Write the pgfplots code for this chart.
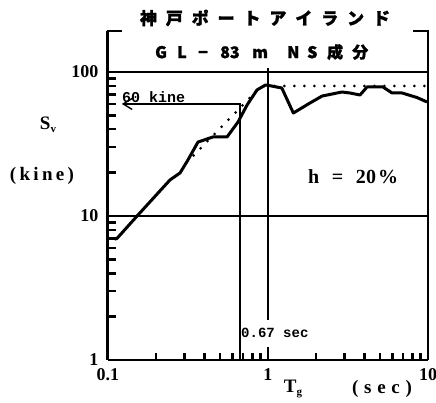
\documentclass[border=0pt]{standalone}
\usepackage{fontspec}
\setmainfont{Liberation Serif}
\newfontfamily\cjk{Noto Sans CJK JP}[FakeBold=1.5]
\newfontfamily\monof{Liberation Mono}
\usepackage{pgfplots}
\pgfplotsset{compat=1.18}
\usetikzlibrary{arrows.meta}
\begin{document}
\begin{tikzpicture}
\begin{axis}[at={(0pt,0pt)}, anchor=south west, scale only axis, width=320pt, height=329pt,
 xmode=log, ymode=log, xmin=0.1, xmax=10, ymin=1, ymax=192.6,
 axis x line*=bottom, axis y line*=left,
 x axis line style={-, line width=2.5pt},
 y axis line style={-, line width=3pt},
 xtick={0.1,1,10}, xticklabels={0.1,1,10},
 ytick={1,10,100}, yticklabels={1,10,100},
 major tick length=0pt, minor tick length=0pt,
 ticklabel style={font=\fontsize{18}{18}\selectfont\bfseries},
 xticklabel style={yshift=-5pt},
 yticklabel style={xshift=-6pt},
 tk/.style={black, line width=2.4pt, forget plot},
 clip=false]
% tick marks
\pgfplotsinvokeforeach{2,3,4,5,6,7,8,9}{
 \addplot[tk] coordinates {(#1e-1,1)(#1e-1,1.11)};
 \addplot[tk] coordinates {(#1,1)(#1,1.11)};
 \addplot[tk] coordinates {(0.1,#1)(0.113,#1)};
 \addplot[tk] coordinates {(0.1,#10)(0.113,#10)};
}
\addplot[tk] coordinates {(1,1)(1,1.23)};
% grid lines
\addplot[line width=1.5pt] coordinates {(0.1,10)(10,10)};
\addplot[line width=1.5pt] coordinates {(0.1,100)(10,100)};
\addplot[line width=1.5pt] coordinates {(1,1.9)(1,106.6)};
\addplot[line width=1.4pt, -{Straight Barb[length=9pt,width=11pt]}] coordinates {(0.67,1)(0.67,60)(0.122,60)};
% dotted design spectrum
\addplot[line width=3pt, dash pattern=on 0pt off 10pt, line cap=round] coordinates {(0.31,23.5)(0.91,80)(10,80)};
% observed spectrum
\addplot[line width=3pt, line join=round] coordinates {
(0.110,6.9)(0.114,7.0)(0.152,10)(0.244,17.8)(0.282,19.9)(0.316,24.5)(0.365,32.6)(0.453,35.4)(0.555,35.4)(0.65,45)(0.74,59)(0.853,75)(0.96,81)(0.99,81)(1.22,77.4)(1.44,51.9)(1.83,60.9)(2.18,68.1)(2.51,70.3)(2.90,72.6)(3.25,71.5)(3.76,69.2)(4.16,78.7)(5.23,78.7)(5.96,71.5)(6.88,71.5)(8.53,66.5)(9.86,61.9)};
\end{axis}
% frame
\draw[line width=2pt] (-1.5pt,329pt) -- (14pt,329pt);
\draw[line width=1.8pt] (320pt,0pt) -- (320pt,329pt) -- (305pt,329pt);
% texts
\node[font=\cjk\bfseries\fontsize{17}{17}\selectfont, inner sep=0] at (157pt,342pt) {\makebox[250pt][s]{神\hfill 戸\hfill ポ\hfill ー\hfill ト\hfill ア\hfill イ\hfill ラ\hfill ン\hfill ド}};
\node[font=\cjk\bfseries\fontsize{16}{16}\selectfont, inner sep=0, anchor=west] at (47pt,308pt) {\makebox[22pt][l]{G}\makebox[21pt][l]{L}\makebox[22pt][l]{−}\makebox[32pt][l]{83}\makebox[35pt][l]{m}\makebox[20pt][l]{N}\makebox[20pt][l]{S}\makebox[25pt][l]{成}分};
\node[font=\fontsize{19}{19}\selectfont\bfseries] at (-60pt,235pt) {S\raisebox{-3pt}{\fontsize{11}{11}\selectfont v}};
\node[font=\fontsize{19}{19}\selectfont\bfseries, inner sep=0] at (-66pt,184pt) {\makebox[64pt][s]{(\hfill k\hfill i\hfill n\hfill e\hfill )}};
\node[font=\fontsize{20}{20}\selectfont\bfseries, inner sep=0] at (245pt,183pt) {\makebox[90pt][s]{h\hfill =\hfill 20\hspace{2pt}\%}};
\node[font=\fontsize{19}{19}\selectfont\bfseries] at (185pt,-29pt) {T\raisebox{-3pt}{\fontsize{11}{11}\selectfont g}};
\node[font=\fontsize{19}{19}\selectfont\bfseries, inner sep=0] at (274pt,-29pt) {\makebox[60pt][s]{(\hfill s\hfill e\hfill c\hfill )}};
\node[font=\monof\bfseries\fontsize{14}{14}\selectfont, anchor=west, inner sep=0] at (133pt,27pt) {0.67 sec};
\node[font=\monof\bfseries\fontsize{15}{15}\selectfont, anchor=west, inner sep=0] at (14pt,263pt) {60 kine};
\pgfresetboundingbox
\path[use as bounding box] (-108pt,-42pt) rectangle (328pt,360pt);
\end{tikzpicture}
\end{document}
